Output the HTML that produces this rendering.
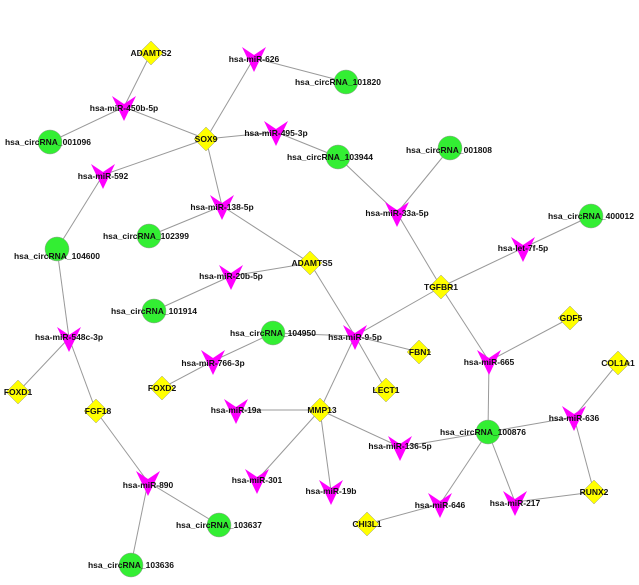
<!DOCTYPE html>
<html><head><meta charset="utf-8"><style>
html,body{margin:0;padding:0;background:#fff}
text{font-family:"Liberation Sans",Arial,sans-serif;font-size:8.5px;font-weight:bold;fill:#111;text-anchor:middle}
</style></head><body>
<svg width="639" height="580" viewBox="0 0 639 580" xmlns="http://www.w3.org/2000/svg">
<defs>
<polygon id="v" points="-12,-11 0,-3 12,-11 0,14" fill="#ff00ff"/>
<polygon id="d" points="0,-12 12,0 0,12 -12,0" fill="#ffff00" stroke="#999" stroke-width="0.5"/>
</defs>
<g stroke="#999" stroke-width="1" fill="none">
<line x1="151" y1="53" x2="124" y2="107"/>
<line x1="124" y1="107" x2="50" y2="142"/>
<line x1="124" y1="107" x2="206" y2="139"/>
<line x1="206" y1="139" x2="254" y2="58"/>
<line x1="254" y1="58" x2="346" y2="82"/>
<line x1="206" y1="139" x2="276" y2="132"/>
<line x1="276" y1="132" x2="338" y2="157"/>
<line x1="206" y1="139" x2="103" y2="175"/>
<line x1="103" y1="175" x2="57" y2="249"/>
<line x1="206" y1="139" x2="222" y2="206"/>
<line x1="222" y1="206" x2="149" y2="236"/>
<line x1="222" y1="206" x2="310" y2="263"/>
<line x1="338" y1="157" x2="397" y2="213"/>
<line x1="450" y1="148" x2="397" y2="213"/>
<line x1="397" y1="213" x2="441" y2="287"/>
<line x1="441" y1="287" x2="523" y2="248"/>
<line x1="523" y1="248" x2="591" y2="216"/>
<line x1="310" y1="263" x2="231" y2="276"/>
<line x1="231" y1="276" x2="154" y2="311"/>
<line x1="310" y1="263" x2="355" y2="336"/>
<line x1="441" y1="287" x2="355" y2="336"/>
<line x1="441" y1="287" x2="489" y2="361"/>
<line x1="273" y1="333" x2="355" y2="336"/>
<line x1="273" y1="333" x2="213" y2="361"/>
<line x1="213" y1="361" x2="162" y2="388"/>
<line x1="355" y1="336" x2="419" y2="352"/>
<line x1="355" y1="336" x2="386" y2="390"/>
<line x1="355" y1="336" x2="320" y2="410"/>
<line x1="236" y1="410" x2="320" y2="410"/>
<line x1="320" y1="410" x2="257" y2="480"/>
<line x1="320" y1="410" x2="331" y2="491"/>
<line x1="320" y1="410" x2="400" y2="447"/>
<line x1="400" y1="447" x2="488" y2="432"/>
<line x1="488" y1="432" x2="489" y2="361"/>
<line x1="489" y1="361" x2="570" y2="318"/>
<line x1="488" y1="432" x2="574" y2="417"/>
<line x1="574" y1="417" x2="618" y2="363"/>
<line x1="574" y1="417" x2="594" y2="492"/>
<line x1="594" y1="492" x2="515" y2="502"/>
<line x1="488" y1="432" x2="515" y2="502"/>
<line x1="488" y1="432" x2="440" y2="504"/>
<line x1="440" y1="504" x2="367" y2="524"/>
<line x1="57" y1="249" x2="69" y2="338"/>
<line x1="69" y1="338" x2="18" y2="392"/>
<line x1="69" y1="338" x2="96" y2="411"/>
<line x1="96" y1="411" x2="148" y2="482"/>
<line x1="148" y1="482" x2="219" y2="525"/>
<line x1="148" y1="482" x2="131" y2="565"/>
</g>
<g fill="#33ee33" stroke="#999" stroke-width="0.5">
<circle cx="346" cy="82" r="12"/><circle cx="50" cy="142" r="12"/><circle cx="338" cy="157" r="12"/>
<circle cx="450" cy="148" r="12"/><circle cx="149" cy="236" r="12"/><circle cx="591" cy="216" r="12"/>
<circle cx="57" cy="249" r="12"/><circle cx="154" cy="311" r="12"/><circle cx="273" cy="333" r="12"/>
<circle cx="488" cy="432" r="12"/><circle cx="219" cy="525" r="12"/><circle cx="131" cy="565" r="12"/>
</g>
<use href="#v" x="254" y="58"/><use href="#v" x="124" y="107"/><use href="#v" x="276" y="132"/>
<use href="#v" x="103" y="175"/><use href="#v" x="222" y="206"/><use href="#v" x="397" y="213"/>
<use href="#v" x="523" y="248"/><use href="#v" x="231" y="276"/><use href="#v" x="69" y="338"/>
<use href="#v" x="355" y="336"/><use href="#v" x="213" y="361"/><use href="#v" x="489" y="361"/>
<use href="#v" x="236" y="410"/><use href="#v" x="574" y="417"/><use href="#v" x="400" y="447"/>
<use href="#v" x="148" y="482"/><use href="#v" x="257" y="480"/><use href="#v" x="331" y="491"/>
<use href="#v" x="440" y="504"/><use href="#v" x="515" y="502"/>
<use href="#d" x="151" y="53"/><use href="#d" x="206" y="139"/><use href="#d" x="310" y="263"/>
<use href="#d" x="441" y="287"/><use href="#d" x="570" y="318"/><use href="#d" x="419" y="352"/>
<use href="#d" x="618" y="363"/><use href="#d" x="18" y="392"/><use href="#d" x="386" y="390"/>
<use href="#d" x="162" y="388"/><use href="#d" x="96" y="411"/><use href="#d" x="320" y="410"/>
<use href="#d" x="594" y="492"/><use href="#d" x="367" y="524"/>
<g>
<text x="338" y="85">hsa_circRNA_101820</text>
<text x="48" y="145">hsa_circRNA_001096</text>
<text x="330" y="160">hsa_circRNA_103944</text>
<text x="449" y="153">hsa_circRNA_001808</text>
<text x="146" y="239">hsa_circRNA_102399</text>
<text x="591" y="219">hsa_circRNA_400012</text>
<text x="57" y="259">hsa_circRNA_104600</text>
<text x="154" y="314">hsa_circRNA_101914</text>
<text x="273" y="336">hsa_circRNA_104950</text>
<text x="483" y="435">hsa_circRNA_100876</text>
<text x="219" y="528">hsa_circRNA_103637</text>
<text x="131" y="568">hsa_circRNA_103636</text>
<text x="254" y="62">hsa-miR-626</text>
<text x="124" y="111">hsa-miR-450b-5p</text>
<text x="276" y="136">hsa-miR-495-3p</text>
<text x="103" y="179">hsa-miR-592</text>
<text x="222" y="210">hsa-miR-138-5p</text>
<text x="397" y="216">hsa-miR-33a-5p</text>
<text x="523" y="251">hsa-let-7f-5p</text>
<text x="231" y="279">hsa-miR-20b-5p</text>
<text x="69" y="340">hsa-miR-548c-3p</text>
<text x="355" y="340">hsa-miR-9-5p</text>
<text x="213" y="366">hsa-miR-766-3p</text>
<text x="489" y="365">hsa-miR-665</text>
<text x="236" y="413">hsa-miR-19a</text>
<text x="574" y="421">hsa-miR-636</text>
<text x="400" y="449">hsa-miR-136-5p</text>
<text x="148" y="488">hsa-miR-890</text>
<text x="257" y="483">hsa-miR-301</text>
<text x="331" y="494">hsa-miR-19b</text>
<text x="440" y="508">hsa-miR-646</text>
<text x="515" y="506">hsa-miR-217</text>
<text x="151" y="56">ADAMTS2</text>
<text x="206" y="142">SOX9</text>
<text x="312" y="266">ADAMTS5</text>
<text x="441" y="290">TGFBR1</text>
<text x="571" y="321">GDF5</text>
<text x="420" y="355">FBN1</text>
<text x="618" y="366">COL1A1</text>
<text x="18" y="395">FOXD1</text>
<text x="386" y="393">LECT1</text>
<text x="162" y="391">FOXD2</text>
<text x="98" y="414">FGF18</text>
<text x="322" y="413">MMP13</text>
<text x="594" y="495">RUNX2</text>
<text x="367" y="527">CHI3L1</text>
</g>
</svg>
</body></html>
